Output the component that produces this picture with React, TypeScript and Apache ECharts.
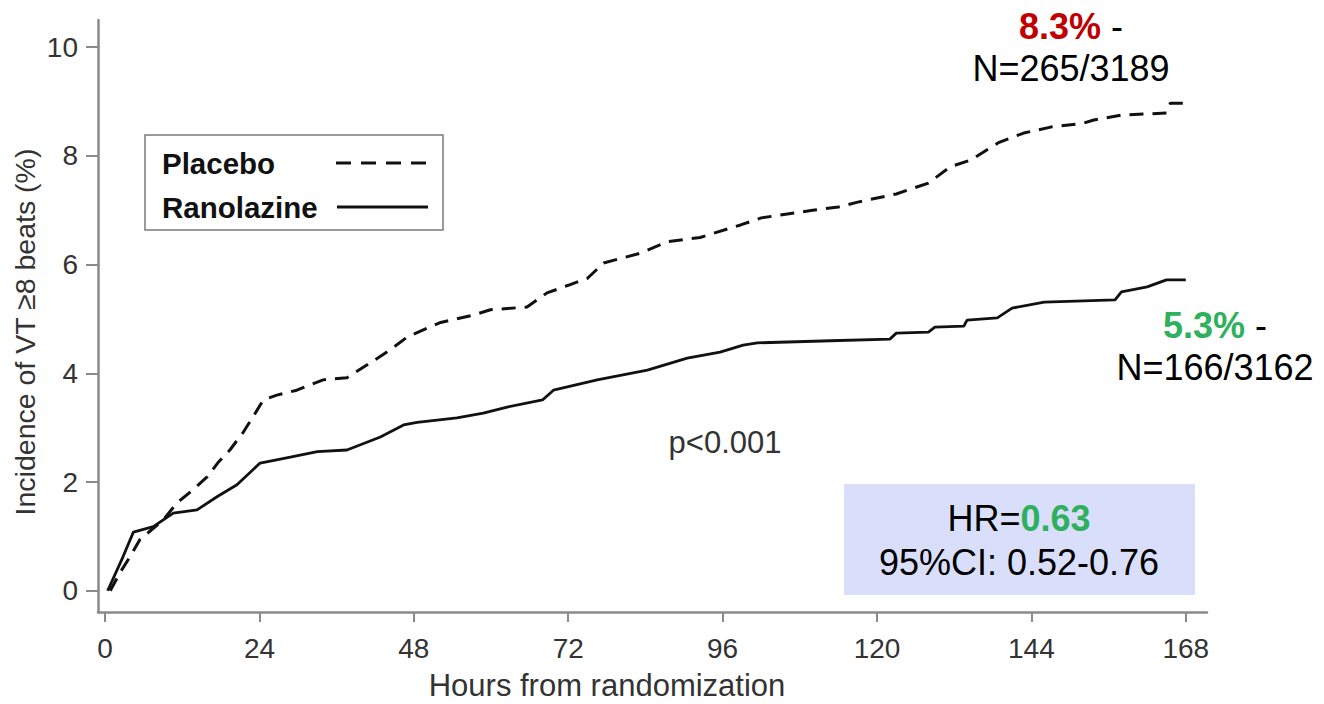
import React, { useEffect, useRef } from "react";
import * as echarts from "echarts";

const xTicks = [0, 24, 48, 72, 96, 120, 144, 168];
const yTicks = [0, 2, 4, 6, 8, 10];

const placeboHours = [0.8, 2.3, 3.9, 5.4, 7, 9, 11.2, 13.7, 15.9, 17.5, 19.4, 21.5, 23, 24.6, 26.7, 29.8, 33.9, 37.6, 41.2, 44.3, 47, 52, 57.2, 59.9, 65.6, 68.7, 72, 75, 77.5, 83.2, 87.4, 92.5, 98.8, 102, 110, 114, 117, 123, 128, 131.4, 134.5, 139, 142.8, 147, 152, 153.7, 158, 165, 165.6, 168];
const placeboValues = [0, 0.33, 0.63, 0.94, 1.1, 1.3, 1.62, 1.86, 2.1, 2.35, 2.59, 2.92, 3.2, 3.51, 3.6, 3.69, 3.88, 3.92, 4.19, 4.43, 4.67, 4.93, 5.07, 5.17, 5.22, 5.48, 5.62, 5.75, 6.03, 6.21, 6.42, 6.5, 6.73, 6.86, 7.0, 7.06, 7.15, 7.3, 7.5, 7.8, 7.92, 8.25, 8.42, 8.53, 8.6, 8.66, 8.75, 8.79, 8.97, 8.97];

const ranolazineHours = [0.4, 2.8, 4.4, 7.5, 10.6, 14.3, 17.4, 20.5, 24.1, 28.8, 33, 37.6, 42.8, 46.4, 48.5, 54.7, 58.8, 62.5, 68, 69.7, 76.5, 84.3, 90.5, 95.6, 99.2, 101.4, 112.8, 122, 123, 128, 129, 133.5, 134, 138.7, 141, 146, 157, 158, 162, 165, 168];
const ranolazineValues = [0, 0.63, 1.08, 1.18, 1.43, 1.49, 1.73, 1.95, 2.35, 2.46, 2.56, 2.59, 2.83, 3.05, 3.1, 3.18, 3.27, 3.38, 3.51, 3.69, 3.88, 4.06, 4.28, 4.39, 4.52, 4.56, 4.6, 4.63, 4.74, 4.76, 4.85, 4.87, 4.98, 5.02, 5.2, 5.31, 5.35, 5.5, 5.59, 5.72, 5.72];

const seriesNames = ["Placebo", "Ranolazine"];
const xTitle = "Hours from randomization";
const yTitle = "Incidence of VT \u22658 beats (%)";
const placeboPct = "8.3%";
const placeboN = "N=265/3189";
const ranolazinePct = "5.3%";
const ranolazineN = "N=166/3162";
const pText = "p<0.001";
const hrValue = "0.63";
const ciText = "95%CI: 0.52-0.76";

const FONT = "'Liberation Sans', Arial, Helvetica, sans-serif";
const RED = "#c00000";
const GREEN = "#2fb05e";

export default function App() {
  const ref = useRef<HTMLDivElement>(null);
  useEffect(() => {
    if (!ref.current) return;
    const chart = echarts.init(ref.current, null, { renderer: "svg" });
    const axisGray = "#8a8a8a";
    chart.setOption({
      animation: false,
      backgroundColor: "#ffffff",
      grid: { left: 98, right: 117, top: 20, bottom: 92, containLabel: false },
      xAxis: {
        type: "value",
        min: -1.1,
        max: 171.3,
        axisLine: { show: true, onZero: false, lineStyle: { color: axisGray, width: 2.5 } },
        axisTick: { show: true, customValues: xTicks, length: 10, lineStyle: { color: axisGray, width: 2 } },
        axisLabel: { customValues: xTicks, fontSize: 28, color: "#333", fontFamily: FONT, margin: 22 },
        splitLine: { show: false },
      },
      yAxis: {
        type: "value",
        min: -0.39,
        max: 10.5,
        axisLine: { show: true, onZero: false, lineStyle: { color: axisGray, width: 2.5 } },
        axisTick: { show: true, customValues: yTicks, length: 12, lineStyle: { color: axisGray, width: 2 } },
        axisLabel: { customValues: yTicks, fontSize: 28, color: "#333", fontFamily: FONT, margin: 20 },
        splitLine: { show: false },
      },
      series: [
        {
          name: seriesNames[0],
          type: "line",
          data: placeboHours.map((h, i) => [h, placeboValues[i]]),
          symbol: "none",
          lineStyle: { color: "#111", width: 3, type: [14, 9] },
        },
        {
          name: seriesNames[1],
          type: "line",
          data: ranolazineHours.map((h, i) => [h, ranolazineValues[i]]),
          symbol: "none",
          lineStyle: { color: "#111", width: 2.8, type: "solid" },
        },
      ],
      graphic: [
        {
          type: "text",
          x: 607,
          y: 685,
          style: { text: xTitle, fontSize: 31, fontFamily: FONT, fill: "#333", align: "center", verticalAlign: "middle" },
        },
        {
          type: "text",
          x: 25,
          y: 332,
          rotation: Math.PI / 2,
          style: { text: yTitle, fontSize: 28.5, fontFamily: FONT, fill: "#333", align: "center", verticalAlign: "middle" },
        },
        {
          type: "text",
          x: 1071,
          y: 26,
          style: {
            text: "{r|" + placeboPct + "} -",
            fontSize: 36,
            fontFamily: FONT,
            fill: "#000",
            align: "center",
            verticalAlign: "middle",
            rich: { r: { fontSize: 36, fontWeight: "bold", fill: RED, fontFamily: FONT } },
          },
        },
        {
          type: "text",
          x: 1071,
          y: 68,
          style: { text: placeboN, fontSize: 36, fontFamily: FONT, fill: "#000", align: "center", verticalAlign: "middle" },
        },
        {
          type: "text",
          x: 1215,
          y: 325,
          style: {
            text: "{g|" + ranolazinePct + "} -",
            fontSize: 36,
            fontFamily: FONT,
            fill: "#000",
            align: "center",
            verticalAlign: "middle",
            rich: { g: { fontSize: 36, fontWeight: "bold", fill: GREEN, fontFamily: FONT } },
          },
        },
        {
          type: "text",
          x: 1215,
          y: 367,
          style: { text: ranolazineN, fontSize: 36, fontFamily: FONT, fill: "#000", align: "center", verticalAlign: "middle" },
        },
        {
          type: "text",
          x: 725,
          y: 442,
          style: { text: pText, fontSize: 31, fontFamily: FONT, fill: "#333", align: "center", verticalAlign: "middle" },
        },
        {
          type: "rect",
          shape: { x: 844, y: 484, width: 351, height: 111 },
          style: { fill: "#d9dffb" },
        },
        {
          type: "text",
          x: 1019,
          y: 518,
          style: {
            text: "HR={g|" + hrValue + "}",
            fontSize: 36,
            fontFamily: FONT,
            fill: "#000",
            align: "center",
            verticalAlign: "middle",
            rich: { g: { fontSize: 36, fontWeight: "bold", fill: GREEN, fontFamily: FONT } },
          },
        },
        {
          type: "text",
          x: 1019,
          y: 562,
          style: { text: ciText, fontSize: 36, fontFamily: FONT, fill: "#000", align: "center", verticalAlign: "middle" },
        },
        {
          type: "rect",
          shape: { x: 145, y: 135, width: 298, height: 95 },
          style: { fill: "none", stroke: "#7a7a7a", lineWidth: 1.5 },
        },
        {
          type: "text",
          x: 162,
          y: 163,
          style: { text: seriesNames[0], fontSize: 29.5, fontWeight: "bold", fontFamily: FONT, fill: "#111", align: "left", verticalAlign: "middle" },
        },
        {
          type: "text",
          x: 162,
          y: 207,
          style: { text: seriesNames[1], fontSize: 29.5, fontWeight: "bold", fontFamily: FONT, fill: "#111", align: "left", verticalAlign: "middle" },
        },
        {
          type: "line",
          shape: { x1: 336, y1: 163, x2: 428, y2: 163 },
          style: { stroke: "#111", lineWidth: 3, lineDash: [15, 10] },
        },
        {
          type: "line",
          shape: { x1: 337, y1: 207, x2: 428, y2: 207 },
          style: { stroke: "#111", lineWidth: 2.8 },
        },
      ],
    });
    return () => chart.dispose();
  }, []);
  return (
    <div
      ref={ref}
      style={{ position: "fixed", left: 0, top: 0, width: 1324, height: 704, background: "#fff" }}
    />
  );
}
